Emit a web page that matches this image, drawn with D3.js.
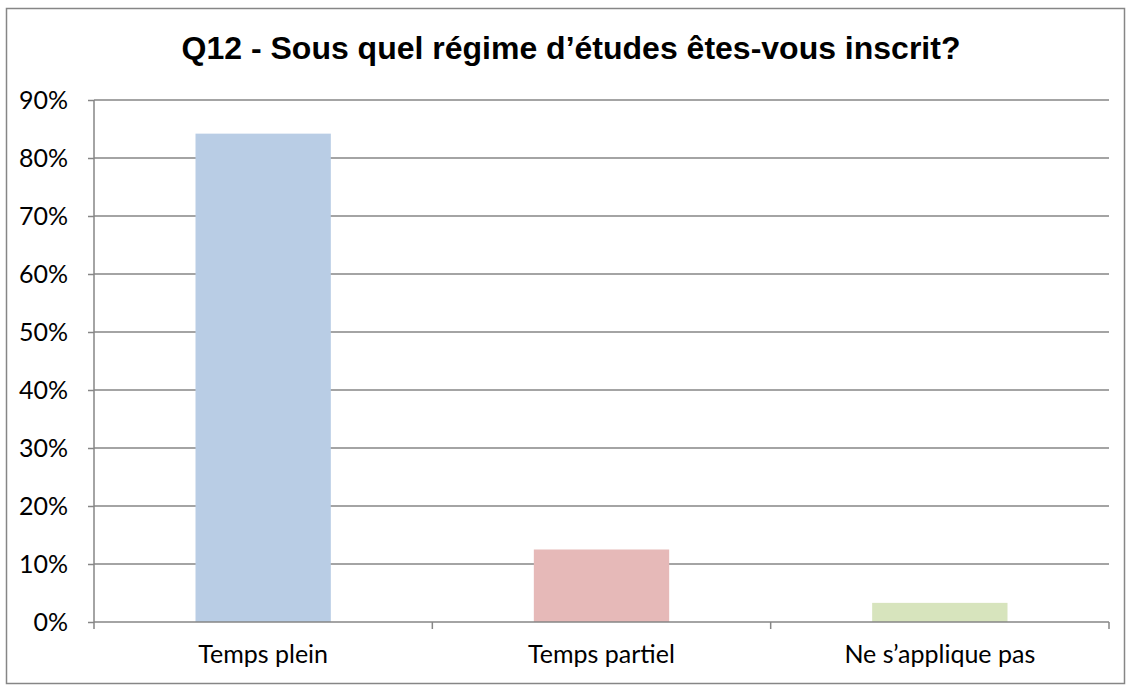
<!DOCTYPE html>
<html>
<head>
<meta charset="utf-8">
<script src="https://cdn.jsdelivr.net/npm/d3@7"></script>
<style>
  body { margin: 0; background: #fff; }
  text { font-family: Lato, "Open Sans", sans-serif; }
</style>
</head>
<body>
<div id="chart"></div>
<script>
const categories = ["Temps plein", "Temps partiel", "Ne s\u2019applique pas"];
const values = [0.842, 0.125, 0.033];
const colors = ["#B9CDE5", "#E6B9B8", "#D7E4BD"];
const yTicks = [0, 0.1, 0.2, 0.3, 0.4, 0.5, 0.6, 0.7, 0.8, 0.9];
const title = "Q12 - Sous quel r\u00e9gime d\u2019\u00e9tudes \u00eates-vous inscrit?";

const width = 1127, height = 686;
const margin = { left: 94, right: 18, top: 100, bottom: 64 };

const svg = d3.select("#chart").append("svg")
  .attr("width", width)
  .attr("height", height);

// outer border
svg.append("rect")
  .attr("x", 6.5).attr("y", 8.5)
  .attr("width", width - 9).attr("height", height - 11)
  .attr("fill", "none")
  .attr("stroke", "#868686")
  .attr("stroke-width", 1.5);

svg.append("text")
  .attr("x", 571).attr("y", 59)
  .attr("text-anchor", "middle")
  .style("font-family", "'Liberation Sans', Arial, sans-serif")
  .style("font-weight", "bold")
  .style("font-size", "32px")
  .text(title);

const x = d3.scaleBand()
  .domain(categories)
  .range([margin.left, width - margin.right])
  .paddingInner(0.6).paddingOuter(0.3);

const y = d3.scaleLinear()
  .domain([0, 0.9])
  .range([height - margin.bottom, margin.top]);

// gridlines
svg.append("g").selectAll("line")
  .data(yTicks.slice(1))
  .enter().append("line")
  .attr("x1", margin.left).attr("x2", width - margin.right)
  .attr("y1", d => y(d)).attr("y2", d => y(d))
  .attr("stroke", "#868686").attr("stroke-width", 1.5);

// bars
svg.append("g").selectAll("rect")
  .data(values)
  .enter().append("rect")
  .attr("x", (d, i) => x(categories[i]))
  .attr("width", x.bandwidth())
  .attr("y", d => y(d))
  .attr("height", d => y(0) - y(d))
  .attr("fill", (d, i) => colors[i]);

// y axis
const yAxis = svg.append("g")
  .attr("transform", `translate(${margin.left},0)`)
  .call(d3.axisLeft(y).tickValues(yTicks).tickFormat(d3.format(".0%")).tickSize(6));
yAxis.selectAll("path, line").attr("stroke", "#868686").attr("stroke-width", 1.5);
yAxis.select(".domain").attr("d", `M0,${y(0.9)}V${y(0)}`);
yAxis.selectAll("text")
  .attr("fill", "#000")
  .attr("x", -26)
  .attr("font-size", 25)
  .attr("font-family", "Lato, sans-serif");

// x axis
const catScale = d3.scalePoint().domain(d3.range(categories.length + 1))
  .range([margin.left, width - margin.right]);
const xAxis = svg.append("g")
  .attr("transform", `translate(0,${y(0)})`);
xAxis.append("line")
  .attr("x1", margin.left).attr("x2", width - margin.right)
  .attr("stroke", "#868686").attr("stroke-width", 1.5);
xAxis.selectAll(".tk")
  .data(catScale.domain())
  .enter().append("line")
  .attr("x1", d => catScale(d)).attr("x2", d => catScale(d))
  .attr("y1", 0).attr("y2", 7)
  .attr("stroke", "#868686").attr("stroke-width", 1.5);
xAxis.selectAll(".lbl")
  .data(categories)
  .enter().append("text")
  .attr("x", d => x(d) + x.bandwidth() / 2)
  .attr("y", 41)
  .attr("text-anchor", "middle")
  .style("font-size", "25px")
  .text(d => d);
</script>
</body>
</html>
